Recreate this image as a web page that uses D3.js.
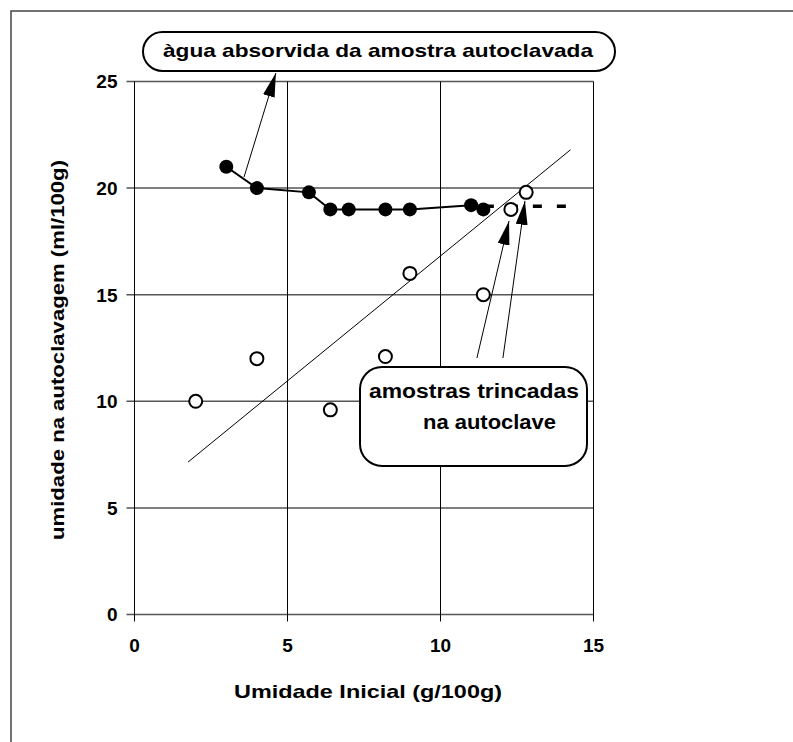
<!DOCTYPE html>
<html>
<head>
    <meta charset="utf-8">
    <title>Umidade na autoclavagem</title>
    <script src="https://d3js.org/d3.v7.min.js"></script>
    <style>
        body { margin: 0; background: #fff; }
        text { font-family: "Liberation Sans", Arial, sans-serif; font-weight: bold; fill: #000; }
    </style>
</head>
<body>
    <div id="chart"></div>

    <script>
        // água absorvida da amostra autoclavada (pontos cheios)
        const absX = [3.0, 4.0, 5.7, 6.4, 7.0, 8.2, 9.0, 11.0, 11.4];
        const absY = [21.0, 20.0, 19.8, 19.0, 19.0, 19.0, 19.0, 19.2, 19.0];

        // umidade na autoclavagem (pontos abertos)
        const umX = [2.0, 4.0, 6.4, 8.2, 9.0, 11.4, 12.3, 12.8];
        const umY = [10.0, 12.0, 9.6, 12.1, 16.0, 15.0, 19.0, 19.8];

        // linha de tendência e nível tracejado
        const trendX = [1.75, 14.25];
        const trendY = [7.15, 21.8];
        const dashX = [11.45, 14.15];
        const dashY = [19.15, 19.15];

        const xTicks = [0, 5, 10, 15];
        const yTicks = [0, 5, 10, 15, 20, 25];

        const W = 793, H = 742;
        const svg = d3.select("#chart").append("svg")
            .attr("width", W).attr("height", H);

        // moldura
        svg.append("rect")
            .attr("x", 11).attr("y", 11)
            .attr("width", 820).attr("height", 800)
            .attr("fill", "none").attr("stroke", "#444").attr("stroke-width", 1.5);

        const x = d3.scaleLinear().domain([0, 15]).range([134.5, 593.5]);
        const y = d3.scaleLinear().domain([0, 25]).range([614.5, 81.5]);

        // grade horizontal
        svg.append("g").selectAll("line").data(yTicks).enter().append("line")
            .attr("x1", x(0) - 8).attr("x2", x(15))
            .attr("y1", d => y(d)).attr("y2", d => y(d))
            .attr("stroke", "#555").attr("stroke-width", 1.5);

        // grade vertical
        svg.append("g").selectAll("line").data(xTicks).enter().append("line")
            .attr("x1", d => x(d)).attr("x2", d => x(d))
            .attr("y1", y(25)).attr("y2", y(0) + 7)
            .attr("stroke", "#000").attr("stroke-width", 1);

        // rótulos dos eixos
        svg.append("g").selectAll("text").data(yTicks).enter().append("text")
            .attr("x", x(0) - 17).attr("y", d => y(d))
            .attr("dy", "0.36em")
            .attr("text-anchor", "end")
            .style("font-size", "19px")
            .text(d => d);

        svg.append("g").selectAll("text").data(xTicks).enter().append("text")
            .attr("x", d => x(d)).attr("y", 652)
            .attr("text-anchor", "middle")
            .style("font-size", "19px")
            .text(d => d);

        svg.append("text")
            .attr("x", 368).attr("y", 698)
            .attr("text-anchor", "middle")
            .attr("textLength", 268).attr("lengthAdjust", "spacingAndGlyphs")
            .style("font-size", "19px")
            .text("Umidade Inicial (g/100g)");

        svg.append("text")
            .attr("transform", "translate(64,350) rotate(-90)")
            .attr("text-anchor", "middle")
            .attr("textLength", 380).attr("lengthAdjust", "spacingAndGlyphs")
            .style("font-size", "18px")
            .text("umidade na autoclavagem (ml/100g)");

        // linha de tendência
        const line = d3.line().x(d => x(d[0])).y(d => y(d[1]));
        svg.append("path")
            .attr("d", line(d3.zip(trendX, trendY)))
            .attr("fill", "none").attr("stroke", "#000").attr("stroke-width", 1);

        // nível tracejado
        svg.append("path")
            .attr("d", line(d3.zip(dashX, dashY)))
            .attr("fill", "none").attr("stroke", "#000")
            .attr("stroke-width", 3.5).attr("stroke-dasharray", "9,15");

        // série cheia
        const abs = d3.zip(absX, absY);
        svg.append("path")
            .attr("d", line(abs))
            .attr("fill", "none").attr("stroke", "#000").attr("stroke-width", 2);
        svg.append("g").selectAll("circle").data(abs).enter().append("circle")
            .attr("cx", d => x(d[0])).attr("cy", d => y(d[1]))
            .attr("r", 7).attr("fill", "#000");

        // série aberta
        svg.append("g").selectAll("circle").data(d3.zip(umX, umY)).enter().append("circle")
            .attr("cx", d => x(d[0])).attr("cy", d => y(d[1]))
            .attr("r", 6.5).attr("fill", "#fff")
            .attr("stroke", "#000").attr("stroke-width", 2);

        // setas
        svg.append("defs").append("marker")
            .attr("id", "head")
            .attr("markerUnits", "userSpaceOnUse")
            .attr("viewBox", "0 0 24 12")
            .attr("refX", 24).attr("refY", 6)
            .attr("markerWidth", 24).attr("markerHeight", 12)
            .attr("orient", "auto")
            .append("path").attr("d", "M0,0 L24,6 L0,12 Z").attr("fill", "#000");

        const arrows = [
            [[3.58, 20.52], [4.62, 25.4]],
            [[11.19, 12.03], [12.24, 18.46]],
            [[12.04, 12.03], [12.76, 19.4]]
        ];
        svg.append("g").selectAll("path").data(arrows).enter().append("path")
            .attr("d", d => line(d))
            .attr("stroke", "#000").attr("stroke-width", 1)
            .attr("marker-end", "url(#head)");

        // caixas de anotação
        svg.append("rect")
            .attr("x", 143).attr("y", 32).attr("width", 472).attr("height", 39)
            .attr("rx", 19.5)
            .attr("fill", "#fff").attr("stroke", "#000").attr("stroke-width", 2);
        svg.append("text")
            .attr("x", 163).attr("y", 57)
            .attr("textLength", 430).attr("lengthAdjust", "spacingAndGlyphs")
            .style("font-size", "19px")
            .text("àgua absorvida da amostra autoclavada");

        svg.append("rect")
            .attr("x", 360).attr("y", 367).attr("width", 227).attr("height", 99)
            .attr("rx", 22)
            .attr("fill", "#fff").attr("stroke", "#000").attr("stroke-width", 2);
        svg.append("text")
            .attr("x", 369).attr("y", 398)
            .attr("textLength", 210).attr("lengthAdjust", "spacingAndGlyphs")
            .style("font-size", "20px")
            .text("amostras trincadas");
        svg.append("text")
            .attr("x", 423).attr("y", 429)
            .attr("textLength", 133).attr("lengthAdjust", "spacingAndGlyphs")
            .style("font-size", "20px")
            .text("na autoclave");
    </script>
</body>
</html>
